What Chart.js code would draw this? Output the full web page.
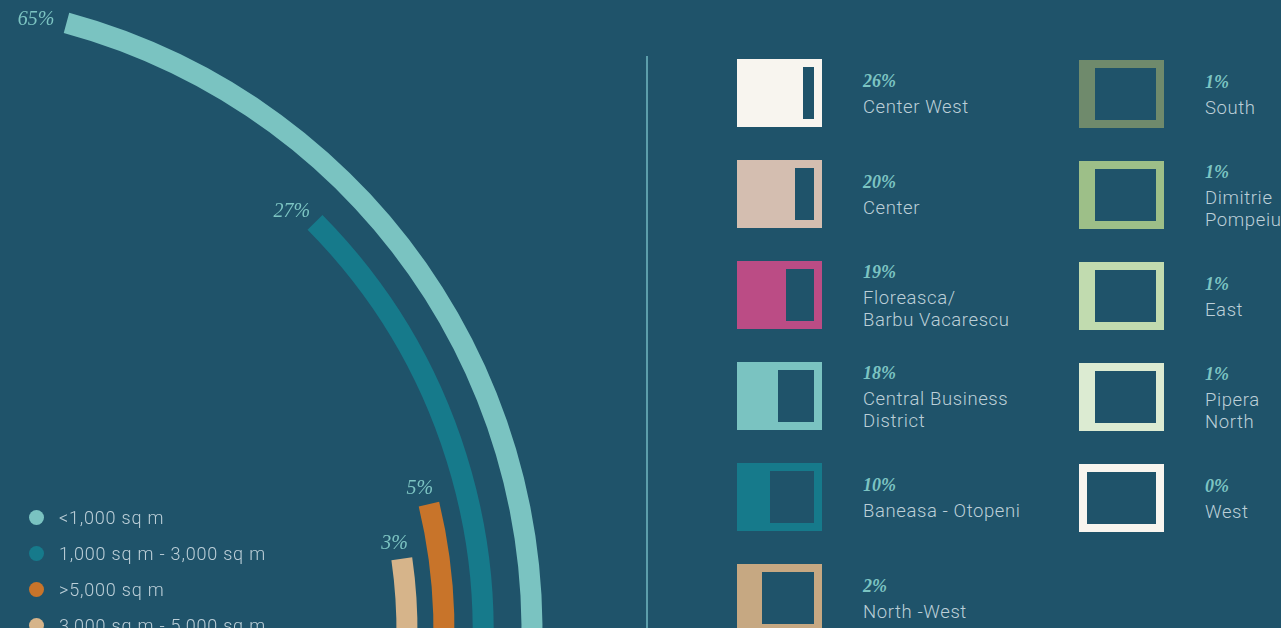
<!DOCTYPE html>
<html>
<head>
<meta charset="utf-8">
<script src="https://cdn.jsdelivr.net/npm/chart.js@4.4.0/dist/chart.umd.min.js"></script>
<style>
  html, body { margin:0; padding:0; width:1281px; height:628px; overflow:hidden; background:#1f536a; }
  #stage { position:relative; width:1281px; height:628px; overflow:hidden; background:#1f536a;
           font-family: Roboto, "Noto Sans", sans-serif; }
  #arcs { position:absolute; left:-798px; top:-69px; }
  .divider { position:absolute; left:646px; top:56px; width:2px; height:572px; background:#5c9eab; }
  .band { position:absolute; left:29px; height:20px; display:flex; align-items:center;
          color:#bccfd8; font-size:18px; font-weight:300; letter-spacing:0.8px; white-space:nowrap; }
  .band i { display:inline-block; width:15px; height:15px; border-radius:50%; margin-right:15px; flex:none; }
  .box { position:absolute; width:85px; height:68px; }
  .box .hole { position:absolute; top:8px; bottom:8px; right:8px; background:#1f536a; }
  .txt { position:absolute; height:68px; display:flex; flex-direction:column; justify-content:center;
         color:#bccfd8; font-size:18.5px; font-weight:300; letter-spacing:0.6px; line-height:22px; white-space:nowrap; }
  .txt .pct { font-family:"Liberation Serif", serif; font-style:italic; font-weight:bold; letter-spacing:0;
              color:#7cc4c2; font-size:18px; line-height:20px; margin-bottom:5px; }
</style>
</head>
<body>
<div id="stage">
  <canvas id="arcs" width="1400" height="1400"></canvas>
  <div class="divider"></div>
  <div id="bands"></div>
  <div id="districts"></div>
</div>
<script>
// ---- data ----
const sizeBands  = ['<1,000 sq m', '1,000 sq m - 3,000 sq m', '>5,000 sq m', '3,000 sq m - 5,000 sq m'];
const sizeShares = [65, 27, 5, 3];
const bandColors = ['#7ac3c1', '#167a8b', '#c8742a', '#d6b48a'];

const districtNames  = ['Center West', 'Center', 'Floreasca/\nBarbu Vacarescu', 'Central Business\nDistrict',
                        'Baneasa - Otopeni', 'North -West', 'South', 'Dimitrie\nPompeiu', 'East',
                        'Pipera\nNorth', 'West'];
const districtShares = [26, 20, 19, 18, 10, 2, 1, 1, 1, 1, 0];
const districtColors = ['#f8f5ef', '#d4beb0', '#bb4c85', '#7ac3c1', '#167a8b', '#c6a882',
                        '#6f8a6c', '#9dbf88', '#c1dbaf', '#dcebd2', '#f8f5ef'];

// ---- radial scale: arc length grows with the square root of the share ----
const ARC_FULL_TURN = 34.2;   // sqrt-units that would make a full circle
const ringWeight = 21;
const gapWeights = [28, 18, 16];

const datasets = [];
sizeShares.forEach((v, i) => {
  const s = Math.sqrt(v);
  datasets.push({
    data: [ARC_FULL_TURN - s, s],
    backgroundColor: ['rgba(0,0,0,0)', bandColors[i]],
    borderWidth: 0,
    weight: ringWeight
  });
  if (i < gapWeights.length) {
    datasets.push({ data: [1], backgroundColor: ['rgba(0,0,0,0)'], borderWidth: 0, weight: gapWeights[i] });
  }
});
const ringIndex = [0, 2, 4, 6];

const arcLabels = {
  id: 'arcLabels',
  afterDatasetsDraw(chart) {
    const ctx = chart.ctx;
    ctx.save();
    ctx.font = 'italic 20px "Liberation Serif", serif';
    ctx.fillStyle = '#7cc4c2';
    ctx.textAlign = 'center';
    ctx.textBaseline = 'middle';
    ringIndex.forEach((di, k) => {
      const el = chart.getDatasetMeta(di).data[1];
      const p = el.getProps(['x', 'y', 'startAngle', 'innerRadius', 'outerRadius'], true);
      const r = (p.innerRadius + p.outerRadius) / 2;
      const px = p.x + r * Math.cos(p.startAngle);
      const py = p.y + r * Math.sin(p.startAngle);
      const tx = Math.sin(p.startAngle), ty = -Math.cos(p.startAngle);
      const text = sizeShares[k] + '%';
      const w = ctx.measureText(text).width, h = 15, g = 9;
      ctx.fillText(text, px + tx * (g + w / 2) - 4, py + ty * (g + h / 2) + 1);
    });
    ctx.restore();
  }
};

new Chart(document.getElementById('arcs'), {
  type: 'doughnut',
  data: { labels: ['', ''], datasets },
  options: {
    responsive: false,
    animation: false,
    events: [],
    devicePixelRatio: 1,
    rotation: 100,
    circumference: 360,
    radius: 640.5,
    cutout: (494.5 / 640.5 * 100) + '%',
    layout: { padding: 0 },
    plugins: { legend: { display: false }, tooltip: { enabled: false } }
  },
  plugins: [arcLabels]
});

// ---- size band legend ----
const bandsEl = document.getElementById('bands');
sizeBands.forEach((b, i) => {
  const d = document.createElement('div');
  d.className = 'band';
  d.style.top = (507.5 + i * 35.9) + 'px';
  d.innerHTML = '<i style="background:' + bandColors[i] + '"></i>';
  d.appendChild(document.createTextNode(b));
  bandsEl.appendChild(d);
});

// ---- district legend: fill follows the rank of the share ----
const distinct = [...new Set(districtShares)].sort((a, b) => a - b);
const FILL_MAX = 58;
const distEl = document.getElementById('districts');
districtNames.forEach((name, i) => {
  const col = i < 6 ? 0 : 1;
  const row = col ? i - 6 : i;
  const left = col ? 1079 : 737;
  const top = (col ? 60 : 59) + row * 101;
  const rank = distinct.indexOf(districtShares[i]);
  const fill = rank / (distinct.length - 1) * FILL_MAX;
  const box = document.createElement('div');
  box.className = 'box';
  box.style.left = left + 'px';
  box.style.top = top + 'px';
  box.style.background = districtColors[i];
  const hole = document.createElement('div');
  hole.className = 'hole';
  hole.style.left = (8 + fill) + 'px';
  box.appendChild(hole);
  distEl.appendChild(box);

  const t = document.createElement('div');
  t.className = 'txt';
  t.style.left = (left + 126) + 'px';
  t.style.top = (top + 1) + 'px';
  const pct = document.createElement('div');
  pct.className = 'pct';
  pct.textContent = districtShares[i] + '%';
  t.appendChild(pct);
  name.split('\n').forEach(line => {
    const l = document.createElement('div');
    l.textContent = line;
    t.appendChild(l);
  });
  distEl.appendChild(t);
});
</script>
</body>
</html>
